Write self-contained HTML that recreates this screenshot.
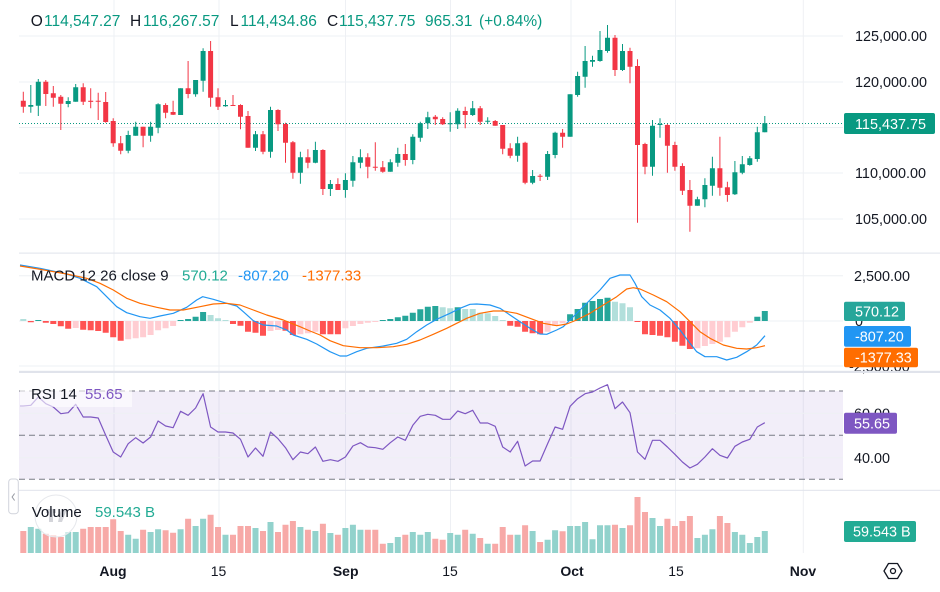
<!DOCTYPE html>
<html><head><meta charset="utf-8">
<style>
html,body{margin:0;padding:0;background:#fff;}
svg{display:block;font-family:"Liberation Sans",Arial,sans-serif;}
</style></head>
<body>
<svg width="940" height="592" viewBox="0 0 940 592" xmlns="http://www.w3.org/2000/svg">
<rect width="940" height="592" fill="#fff"/>

<!-- grid -->
<g stroke="#eef0f4" stroke-width="1">
<path d="M114 0V553M219 0V553M345.5 0V553M450.5 0V553M571 0V553M675.5 0V553M803.3 0V553"/>
<path d="M19 36H843M19 82H843M19 127.5H843M19 173H843M19 219H843"/>
<path d="M19 275.7H843M19 321H843M19 366H843"/>
</g>

<!-- RSI band -->
<rect x="19" y="391" width="824" height="88.3" fill="#7E57C2" fill-opacity="0.1"/>
<g stroke="#eef0f4" stroke-width="1"><path d="M19 413.3H843M19 457.7H843"/></g>
<g stroke="#787B86" stroke-width="1" stroke-dasharray="6 4"><path d="M19 391H843M19 435.3H843M19 479.3H843"/></g>

<!-- separators -->
<rect x="19" y="252.6" width="921" height="1" fill="#e0e3eb"/>
<rect x="19" y="489.8" width="921" height="1" fill="#e0e3eb"/>

<!-- price dotted line -->
<path d="M19 123.5H844" stroke="#089981" stroke-width="1" stroke-dasharray="1 2"/>

<!-- candles green -->
<path stroke="#089981" stroke-width="1" fill="none" d="M30.8 85V112.7M38.3 79V116M68.2 97.3V107.3M75.7 84V101.7M128.2 130.7V153.3M135.7 121.7V135.7M150.6 121.7V141.7M158.1 103.3V133.3M180.6 88.3V115M195.6 80V96.7M203.1 48.3V91.7M225.5 100V106.7M255.5 131V151M270.5 106.7V157.7M300.4 151.7V183.7M315.4 141.7V163.3M330.4 180V196M345.4 173.3V197.7M352.9 156V186.7M360.4 149.3V168.3M390.3 159.3V171.7M397.8 147.7V166.7M412.8 134.3V164.3M420.3 121.7V141.7M427.8 111.7V129M450.2 112.3V131.7M457.7 108.3V129M472.7 101V116M487.7 117.3V124M517.6 136.7V161.7M532.6 170V184.3M547.6 151V180M555.1 131.7V158.3M570.1 94.3V136.7M577.6 71.7V96.7M585.1 46V87.7M592.5 55.7V66.7M600 31V61.7M607.5 25V52.7M622.5 44V71M652.5 120V175.7M660 118.3V137.7M697.4 196.7V205.7M704.9 178.3V207.3M712.4 156.7V195.7M734.9 161V195M742.3 156V174.3M749.8 156V165.7M757.3 126.7V161.7M764.8 116V132.3"/>
<path fill="#089981" d="M28.3 105h5V106.7h-5zM35.8 81.7h5V105.7h-5zM65.7 101h5V104h-5zM73.2 87.3h5V101.7h-5zM125.7 135h5V150.7h-5zM133.2 126.7h5V135.7h-5zM148.1 126.7h5V135.7h-5zM155.6 104.3h5V127.7h-5zM178.1 88.3h5V115h-5zM193.1 80h5V94.3h-5zM200.6 51h5V80.7h-5zM223 105h5V106.2h-5zM253 134.3h5V147.7h-5zM268 110h5V151.7h-5zM297.9 157.3h5V172.7h-5zM312.9 150h5V162.7h-5zM327.9 184h5V189h-5zM342.9 180h5V190h-5zM350.4 162.3h5V180.7h-5zM357.9 157.3h5V162.7h-5zM387.8 162.3h5V171.7h-5zM395.3 154h5V162.7h-5zM410.3 136.7h5V160h-5zM417.8 123.3h5V137.7h-5zM425.3 117.3h5V123.3h-5zM447.7 123.3h5V124.3h-5zM455.2 110.7h5V124.3h-5zM470.2 108.3h5V115h-5zM485.2 120.7h5V121.7h-5zM515.1 143.3h5V155.7h-5zM530.1 176h5V182.7h-5zM545.1 154h5V176.7h-5zM552.6 132.7h5V155h-5zM567.6 94.3h5V136.7h-5zM575.1 76h5V95h-5zM582.6 61h5V76.7h-5zM590 60h5V61.7h-5zM597.5 50h5V61h-5zM605 37.7h5V51h-5zM620 51h5V70h-5zM650 125.7h5V166.7h-5zM657.5 124h5V125h-5zM694.9 199.3h5V205.7h-5zM702.4 185h5V199.3h-5zM709.9 168.3h5V185.7h-5zM732.4 172.3h5V194.3h-5zM739.8 164.3h5V172.7h-5zM747.3 158.3h5V165h-5zM754.8 132.3h5V159h-5zM762.3 123.3h5V132.3h-5z"/>

<!-- candles red -->
<path stroke="#F23645" stroke-width="1" fill="none" d="M23.3 91.7V112.7M45.8 80V106M53.3 86V106.7M60.8 95V130M83.2 83.3V105M90.7 88.3V108.3M98.2 92.7V120M105.7 92V122.7M113.2 118.3V146.7M120.7 136V154.3M143.1 126.7V147.3M165.6 103.3V118.3M173.1 100.7V115M188.1 61V98.3M210.6 41V106.7M218 88.3V110M233 95V106M240.5 104.3V129.3M248 111V147.7M263 131V154.3M278 109.3V131M285.5 122.7V162.7M292.9 141V178.7M307.9 149.3V168.3M322.9 149.3V195M337.9 178.3V190M367.8 153.3V178.3M375.3 142.3V170.7M382.8 161V172.7M405.3 144V165.7M435.3 115V125M442.7 117.3V125M465.2 106.7V128.3M480.2 106V125M495.2 120V125.7M502.7 125V154.3M510.2 143.3V158.3M525.1 141.7V184.3M540.1 174V181M562.6 129V147.7M615 35V76M630 47.7V83.3M637.5 59.3V222.7M645 142.7V174.3M667.4 124V172.7M674.9 141.7V170.7M682.4 163.3V195M689.9 180V231.7M719.9 136.7V195.7M727.4 181.7V201.7"/>
<path fill="#F23645" d="M20.8 100.7h5V106.7h-5zM43.3 81.7h5V94h-5zM50.8 93.3h5V97.7h-5zM58.3 96.7h5V103.7h-5zM80.7 87.3h5V101.7h-5zM88.2 100.7h5V101.9h-5zM95.7 100.7h5V101.7h-5zM103.2 102h5V122h-5zM110.7 121h5V143.3h-5zM118.2 143.3h5V150.7h-5zM140.6 126.7h5V135.7h-5zM163.1 105h5V112.7h-5zM170.6 112h5V114.7h-5zM185.6 88.3h5V94h-5zM208.1 51h5V97.7h-5zM215.5 97.3h5V106.7h-5zM230.5 105h5V106h-5zM238 105h5V116.7h-5zM245.5 116h5V147.7h-5zM260.5 134.3h5V151.7h-5zM275.5 110h5V124.3h-5zM283 124h5V142.7h-5zM290.4 142.3h5V172.7h-5zM305.4 157.3h5V162.7h-5zM320.4 150h5V189h-5zM335.4 184h5V190h-5zM365.3 157.3h5V166.7h-5zM372.8 166.7h5V167.7h-5zM380.3 167.3h5V171.7h-5zM402.8 154h5V160h-5zM432.8 116.7h5V119.3h-5zM440.2 119h5V124.3h-5zM462.7 111h5V115h-5zM477.7 108.3h5V121.7h-5zM492.7 121h5V125.7h-5zM500.2 125h5V148.7h-5zM507.7 148.3h5V155.7h-5zM522.6 142.7h5V182.7h-5zM537.6 175.7h5V176.7h-5zM560.1 132.7h5V136.7h-5zM612.5 37.7h5V70h-5zM627.5 51h5V66.7h-5zM635 66h5V145h-5zM642.5 144h5V166.7h-5zM664.9 125h5V145.7h-5zM672.4 145h5V166.7h-5zM679.9 166h5V190.7h-5zM687.4 190h5V205.7h-5zM717.4 168.3h5V187.7h-5zM724.9 187.3h5V195h-5z"/>

<!-- MACD histogram -->
<path fill="#26A69A" d="M35.3 320h6V321h-6zM177.6 320h6V321h-6zM185.1 319h6V321h-6zM192.6 316.7h6V321h-6zM200.1 312h6V321h-6zM379.8 320h6V321h-6zM387.3 319h6V321h-6zM394.8 317.3h6V321h-6zM402.3 315.7h6V321h-6zM409.8 312.7h6V321h-6zM417.3 309.3h6V321h-6zM424.8 306.7h6V321h-6zM432.3 306h6V321h-6zM454.7 307.3h6V321h-6zM567.1 314.3h6V321h-6zM574.6 309h6V321h-6zM582.1 302.7h6V321h-6zM589.5 301h6V321h-6zM597 299h6V321h-6zM604.5 297.7h6V321h-6zM754.3 316.7h6V321h-6zM761.8 311h6V321h-6z"/>
<path fill="#B2DFDB" d="M20.3 319h6V321h-6zM207.6 315h6V321h-6zM215 318.3h6V321h-6zM222.5 320h6V321h-6zM439.7 307.3h6V321h-6zM447.2 308.3h6V321h-6zM462.2 309h6V321h-6zM469.7 309h6V321h-6zM477.2 312.7h6V321h-6zM484.7 313.3h6V321h-6zM492.2 316h6V321h-6zM499.7 320h6V321h-6zM612 301.7h6V321h-6zM619.5 303.3h6V321h-6zM627 307.3h6V321h-6z"/>
<path fill="#FF5252" d="M27.8 321h6V322.3h-6zM42.8 321h6V322.7h-6zM50.3 321h6V324h-6zM57.8 321h6V326.3h-6zM65.2 321h6V328.7h-6zM80.2 321h6V329.7h-6zM87.7 321h6V330.3h-6zM95.2 321h6V331h-6zM102.7 321h6V332.7h-6zM110.2 321h6V337.3h-6zM117.7 321h6V340.7h-6zM230 321h6V324h-6zM237.5 321h6V325.7h-6zM245 321h6V331.7h-6zM252.5 321h6V332.7h-6zM260 321h6V335.7h-6zM282.5 321h6V330.7h-6zM289.9 321h6V335h-6zM319.9 321h6V334.3h-6zM327.4 321h6V334.3h-6zM334.9 321h6V334.3h-6zM507.2 321h6V325.7h-6zM514.6 321h6V326.7h-6zM522.1 321h6V331.7h-6zM529.6 321h6V333.3h-6zM537.1 321h6V334.3h-6zM634.5 321h6V322h-6zM642 321h6V334.3h-6zM649.5 321h6V335h-6zM657 321h6V335.7h-6zM664.4 321h6V337.3h-6zM671.9 321h6V341.7h-6zM679.4 321h6V345.7h-6zM686.9 321h6V349h-6z"/>
<path fill="#FFCDD2" d="M72.7 321h6V328h-6zM125.2 321h6V339.3h-6zM132.7 321h6V338.3h-6zM140.1 321h6V337.3h-6zM147.6 321h6V335h-6zM155.1 321h6V330.3h-6zM162.6 321h6V328.3h-6zM170.1 321h6V326h-6zM267.5 321h6V331h-6zM275 321h6V330h-6zM297.4 321h6V334.3h-6zM304.9 321h6V333.3h-6zM312.4 321h6V331.7h-6zM342.4 321h6V328.3h-6zM349.9 321h6V326h-6zM357.4 321h6V324h-6zM364.8 321h6V322.7h-6zM372.3 321h6V322h-6zM544.6 321h6V331.7h-6zM552.1 321h6V326h-6zM559.6 321h6V323.3h-6zM694.4 321h6V348.3h-6zM701.9 321h6V346h-6zM709.4 321h6V344h-6zM716.9 321h6V341.7h-6zM724.4 321h6V337.3h-6zM731.9 321h6V331.7h-6zM739.3 321h6V327.3h-6zM746.8 321h6V322.7h-6z"/>

<!-- MACD lines -->
<polyline fill="none" stroke="#2196F3" stroke-width="1.2" stroke-linejoin="round" points="20,265 40,268.3 66.7,274 80,278.3 96.7,286.7 106.7,296.7 116.7,306.7 126.7,312.7 140,316.7 150,318.3 160,316 173.3,313.3 186.7,307.3 196.7,300 202.7,296.7 213.3,299.3 226.7,303.3 236.7,306 243.3,311.7 253.3,320.7 263.3,325 276.7,326 286.7,330 293.3,335 306.7,339.3 316.7,344 330,351.7 340,356 346.7,356 356.7,351.7 366.7,348.3 383.3,346 396.7,343.3 406.7,339.3 416.7,331.7 426.7,325 436.7,319.3 450,313.3 460,308.3 470,304.3 476.7,304 490,305 500,308.3 510,315 520,321.7 530,328.3 540,334 546.7,334.3 556.7,330 563.3,326.7 570,320 580,310 590,300 600,290 610,278.3 620,275 630,275 635,283.3 641.7,296.7 650,305 660,310 670,318.3 680,330 690,343.3 696.7,351.7 705,356.7 716.7,356.7 726.7,360 736.7,357.3 746.7,351.7 756.7,345 765,335.7"/>
<polyline fill="none" stroke="#FF6D00" stroke-width="1.2" stroke-linejoin="round" points="20,266 40,269.3 66.7,274 86.7,278.3 100,283.3 113.3,290 126.7,298.3 140,303.3 156.7,307.3 170,310 183.3,310 200,306.7 213.3,304 226.7,303.3 240,305 253.3,310 266.7,315 283.3,320 300,326.7 310,331 320,335 330,340.7 343.3,345.7 360,347.7 376.7,347.7 393.3,346.7 406.7,344.3 420,340 433.3,334.3 446.7,328.3 456.7,323.3 466.7,318.3 480,313.3 493.3,311 503.3,311 516.7,313.3 530,318.3 543.3,323.3 556.7,325.7 566.7,324 576.7,320 590,313.3 603.3,305 616.7,296.7 626.7,289 633.3,287.7 640,289 653.3,295 666.7,301.7 680,311.7 690,321.7 700,331.7 710,338.3 723.3,345 736.7,348.3 746.7,349 756.7,347.7 765,345.7"/>

<!-- RSI line -->
<polyline fill="none" stroke="#7E57C2" stroke-width="1.2" stroke-linejoin="round" points="20,406 23.3,406 30.8,405.3 38.3,397 45.8,403.7 53.3,407 60.8,413.7 68.2,412.7 75.7,404.3 83.2,417 90.7,417 98.2,418 105.7,435.3 113.2,452 120.7,457 128.2,443.7 135.7,437.7 143.1,443 150.6,437 158.1,421 165.6,426 173.1,427.7 180.6,411.3 188.1,415.3 195.6,408 203.1,393.7 210.6,427 218,432 225.5,432 233,433 240.5,439.3 248,457 255.5,448 263,456.3 270.5,432 278,438.7 285.5,447.7 292.9,459.7 300.4,452 307.9,453.7 315.4,447 322.9,461.3 330.4,459.7 337.9,461.3 345.4,457 352.9,446 360.4,442.7 367.8,447 375.3,447.7 382.8,449.3 390.3,442.7 397.8,437 405.3,440.3 412.8,425.3 420.3,416.3 427.8,414.3 435.3,415.3 442.7,419.3 450.2,419.3 457.7,411 465.2,413.7 472.7,410.3 480.2,423 487.7,423 495.2,426.3 502.7,447 510.2,452 517.6,441.3 525.1,466 532.6,461 540.1,461 547.6,443.7 555.1,427 562.6,429.3 570.1,406.3 577.6,398.7 585.1,393.7 592.5,392 600,388 607.5,384.7 615,408.7 622.5,402 630,412.7 637.5,452 645,459.3 652.5,440.3 660,440.3 667.4,447 674.9,454.3 682.4,462 689.9,468 697.4,464.3 704.9,457 712.4,448.7 719.9,455.3 727.4,458 734.9,446.3 742.3,442 749.8,439.3 757.3,427 764.8,422.7"/>

<!-- Volume -->
<path fill="#92D2CC" d="M27.8 527h6V553h-6zM35.3 528.7h6V553h-6zM65.2 532h6V553h-6zM72.7 532h6V553h-6zM125.2 534.7h6V553h-6zM132.7 538.7h6V553h-6zM147.6 532h6V553h-6zM155.1 529.3h6V553h-6zM177.6 529.3h6V553h-6zM192.6 526h6V553h-6zM200.1 518.7h6V553h-6zM222.5 534.7h6V553h-6zM252.5 528h6V553h-6zM267.5 522h6V553h-6zM297.4 527h6V553h-6zM312.4 531h6V553h-6zM327.4 533h6V553h-6zM342.4 528h6V553h-6zM349.9 524.7h6V553h-6zM357.4 529.7h6V553h-6zM387.3 543h6V553h-6zM394.8 537h6V553h-6zM409.8 532h6V553h-6zM417.3 534.7h6V553h-6zM424.8 532h6V553h-6zM447.2 533h6V553h-6zM454.7 534.7h6V553h-6zM469.7 533.7h6V553h-6zM484.7 543.7h6V553h-6zM514.6 534.7h6V553h-6zM529.6 531h6V553h-6zM544.6 539.7h6V553h-6zM552.1 530.3h6V553h-6zM567.1 526h6V553h-6zM574.6 526h6V553h-6zM582.1 522h6V553h-6zM589.5 539.3h6V553h-6zM597 525.3h6V553h-6zM604.5 525.3h6V553h-6zM619.5 528h6V553h-6zM649.5 518h6V553h-6zM657 526h6V553h-6zM694.4 538h6V553h-6zM701.9 534.7h6V553h-6zM709.4 529.3h6V553h-6zM731.9 532h6V553h-6zM739.3 534.7h6V553h-6zM746.8 543h6V553h-6zM754.3 537h6V553h-6zM761.8 531h6V553h-6z"/>
<path fill="#F7A9A7" d="M20.3 531h6V553h-6zM42.8 533.7h6V553h-6zM50.3 535.3h6V553h-6zM57.8 537h6V553h-6zM80.2 528.7h6V553h-6zM87.7 527h6V553h-6zM95.2 527h6V553h-6zM102.7 527h6V553h-6zM110.2 519.3h6V553h-6zM117.7 531h6V553h-6zM140.1 529.7h6V553h-6zM162.6 530.3h6V553h-6zM170.1 532.7h6V553h-6zM185.1 518.7h6V553h-6zM207.6 514.7h6V553h-6zM215 527h6V553h-6zM230 534.7h6V553h-6zM237.5 526h6V553h-6zM245 526h6V553h-6zM260 531h6V553h-6zM275 532h6V553h-6zM282.5 524.7h6V553h-6zM289.9 521h6V553h-6zM304.9 529.7h6V553h-6zM319.9 523.7h6V553h-6zM334.9 534.7h6V553h-6zM364.8 529.7h6V553h-6zM372.3 529.7h6V553h-6zM379.8 543.7h6V553h-6zM402.3 534.7h6V553h-6zM432.3 538.7h6V553h-6zM439.7 539.7h6V553h-6zM462.2 529.7h6V553h-6zM477.2 538h6V553h-6zM492.2 543.7h6V553h-6zM499.7 527h6V553h-6zM507.2 534.7h6V553h-6zM522.1 525.3h6V553h-6zM537.1 542h6V553h-6zM559.6 531.3h6V553h-6zM612 524.7h6V553h-6zM627 525.3h6V553h-6zM634.5 497h6V553h-6zM642 512h6V553h-6zM664.4 518.7h6V553h-6zM671.9 526h6V553h-6zM679.4 521h6V553h-6zM686.9 516h6V553h-6zM716.9 516h6V553h-6zM724.4 523h6V553h-6z"/>

<!-- watermark -->
<circle cx="56" cy="516" r="21" fill="#ffffff" fill-opacity="0.55" stroke="#e6e8ec" stroke-width="1"/>
<path d="M46 509h10v4h-3v9h-4v-9h-3zM61 509h6l-5 13h-4z" fill="#c9cbd1" fill-opacity="0.8"/>

<!-- collapse button -->
<rect x="8.7" y="479" width="9.6" height="34.7" rx="3" fill="#fff" stroke="#d1d4dc" stroke-width="1"/>
<path d="M14.6 493.5l-2.5 3.5 2.5 3.5" fill="none" stroke="#9598a1" stroke-width="1"/>

<!-- header legend -->
<g font-size="15.5" fill="#089981">
<text x="30.7" y="26" fill="#131722">O</text>
<text x="44" y="26">114,547.27</text>
<text x="130" y="26" fill="#131722">H</text>
<text x="143" y="26">116,267.57</text>
<text x="230" y="26" fill="#131722">L</text>
<text x="240.5" y="26">114,434.86</text>
<text x="327" y="26" fill="#131722">C</text>
<text x="339" y="26">115,437.75</text>
<text x="425" y="26">965.31</text>
<text x="479" y="26">(+0.84%)</text>
</g>

<!-- MACD legend -->
<g font-size="15">
<text x="31" y="280.3" fill="#131722">MACD 12 26 close 9</text>
<text x="182" y="280.3" fill="#22ab94">570.12</text>
<text x="238" y="280.3" fill="#2196F3">-807.20</text>
<text x="302" y="280.3" fill="#FF6D00">-1377.33</text>
</g>

<!-- RSI legend -->
<rect x="20" y="385.3" width="112" height="21.7" fill="#ffffff" fill-opacity="0.6"/>
<g font-size="15">
<text x="31" y="398.8" fill="#131722">RSI 14</text>
<text x="85" y="398.8" fill="#7E57C2">55.65</text>
</g>

<!-- Volume legend -->
<g font-size="15">
<text x="31.7" y="517" fill="#131722">Volume</text>
<text x="95" y="517" fill="#22ab94">59.543 B</text>
</g>

<!-- Price axis -->
<g font-size="14.4" fill="#131722">
<text x="855" y="41.2">125,000.00</text>
<text x="855" y="87.2">120,000.00</text>
<text x="855" y="178.2">110,000.00</text>
<text x="855" y="224.2">105,000.00</text>
<text x="854" y="281">2,500.00</text>
<text x="855" y="326.2">0</text>
<text x="849" y="371.5">-2,500.00</text>
<text x="854" y="418.5">60.00</text>
<text x="854" y="462.9">40.00</text>
</g>
<rect x="19" y="370.8" width="921" height="2.2" fill="#e0e3eb"/>

<rect x="844" y="113" width="91" height="21" rx="2" fill="#089981"/>
<text x="855" y="128.8" font-size="14.4" fill="#fff">115,437.75</text>

<rect x="844" y="301.7" width="61" height="19.3" rx="2" fill="#26A69A"/>
<text x="855" y="316.5" font-size="14.4" fill="#fff">570.12</text>
<rect x="844" y="326" width="67" height="20.7" rx="2" fill="#2196F3"/>
<text x="855" y="341.6" font-size="14.4" fill="#fff">-807.20</text>
<rect x="844" y="347.7" width="74" height="19.5" rx="2" fill="#FF6D00"/>
<text x="855" y="362.7" font-size="14.4" fill="#fff">-1377.33</text>

<rect x="844" y="412.7" width="53" height="21" rx="2" fill="#7E57C2"/>
<text x="854" y="428.4" font-size="14.4" fill="#fff">55.65</text>

<rect x="844" y="521" width="72" height="21" rx="2" fill="#22ab94"/>
<text x="853" y="536.6" font-size="14.4" fill="#fff">59.543 B</text>

<!-- time axis -->
<g font-size="14" fill="#131722" text-anchor="middle">
<text x="113" y="576" font-weight="bold">Aug</text>
<text x="218.5" y="576">15</text>
<text x="345.7" y="576" font-weight="bold">Sep</text>
<text x="450" y="576">15</text>
<text x="572" y="576" font-weight="bold">Oct</text>
<text x="676" y="576">15</text>
<text x="803" y="576" font-weight="bold">Nov</text>
</g>

<!-- settings icon -->
<path d="M884 571L888.5 563.5H897.5L902 571L897.5 578.5H888.5Z" fill="none" stroke="#131722" stroke-width="1.3" stroke-linejoin="round"/>
<circle cx="893" cy="571" r="2.5" fill="none" stroke="#131722" stroke-width="1.3"/>
</svg>
</body></html>
